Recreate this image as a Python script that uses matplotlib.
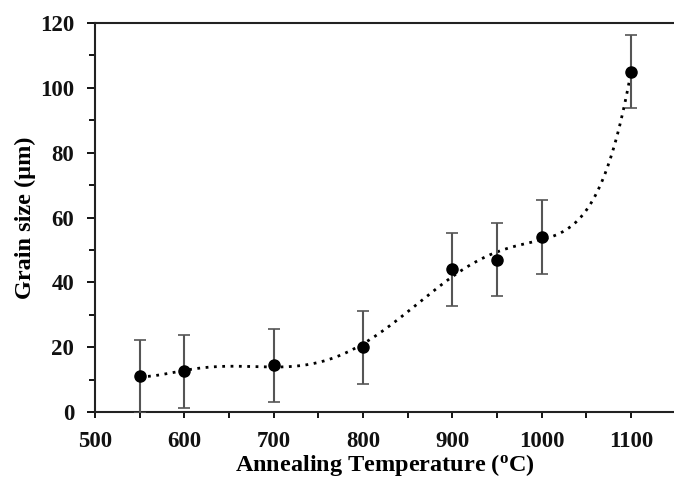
import numpy as np
import matplotlib
matplotlib.use("Agg")
import matplotlib.pyplot as plt
from matplotlib.ticker import MultipleLocator

temperature = [550, 600, 700, 800, 900, 950, 1000, 1100]
grain_size = [11.0, 12.6, 14.4, 20.0, 44.0, 47.0, 54.0, 105.0]
grain_err = [11.3, 11.3, 11.3, 11.3, 11.3, 11.3, 11.3, 11.3]
x_ticks = [500, 600, 700, 800, 900, 1000, 1100]
y_ticks = [0, 20, 40, 60, 80, 100, 120]

plt.rcParams['font.family'] = ['Liberation Serif', 'DejaVu Serif']
plt.rcParams['font.weight'] = 'bold'
plt.rcParams['mathtext.default'] = 'regular'

fig = plt.figure(figsize=(6.74, 4.82), dpi=100)
ax = fig.add_axes([95/674, 70/482, 1 - 95/674, (412-23)/482])

# polynomial trendline
coef = np.polyfit(temperature, grain_size, 6)
xs = np.linspace(temperature[0], temperature[-1], 400)
ax.plot(xs, np.polyval(coef, xs), color='black', linestyle=(0, (1, 2)), linewidth=2, zorder=2)

ax.errorbar(temperature, grain_size, yerr=grain_err, fmt='o', color='black',
            markersize=8, ecolor='#555555', elinewidth=1.5, capsize=4, capthick=1.2, zorder=3)

ax.set_xlim(500, 1148)
ax.set_ylim(0, 120)
ax.set_xticks(x_ticks)
ax.set_yticks(y_ticks)
ax.xaxis.set_minor_locator(MultipleLocator(50))
ax.yaxis.set_minor_locator(MultipleLocator(10))
ax.tick_params(axis='y', which='major', direction='out', length=6, width=1.3, pad=9, labelsize=16.5)
ax.tick_params(axis='y', which='minor', direction='out', length=4, width=1.3)
ax.tick_params(axis='x', which='both', direction='out', length=4, width=1.3, pad=10, labelsize=16.5)
for lab in ax.get_xticklabels() + ax.get_yticklabels():
    lab.set_fontweight('bold')
    lab.set_color('#111111')

for s in ['left', 'bottom', 'top']:
    ax.spines[s].set_linewidth(1.5)
    ax.spines[s].set_color('#222222')
ax.spines['right'].set_visible(False)

ax.set_xlabel(r'Annealing Temperature ($^{o}$C)', fontsize=17.5, fontweight='bold', labelpad=0)
ax.set_ylabel('Grain size (µm)', fontsize=17.5, fontweight='bold', labelpad=3)

fig.savefig('out.png', dpi=100)
